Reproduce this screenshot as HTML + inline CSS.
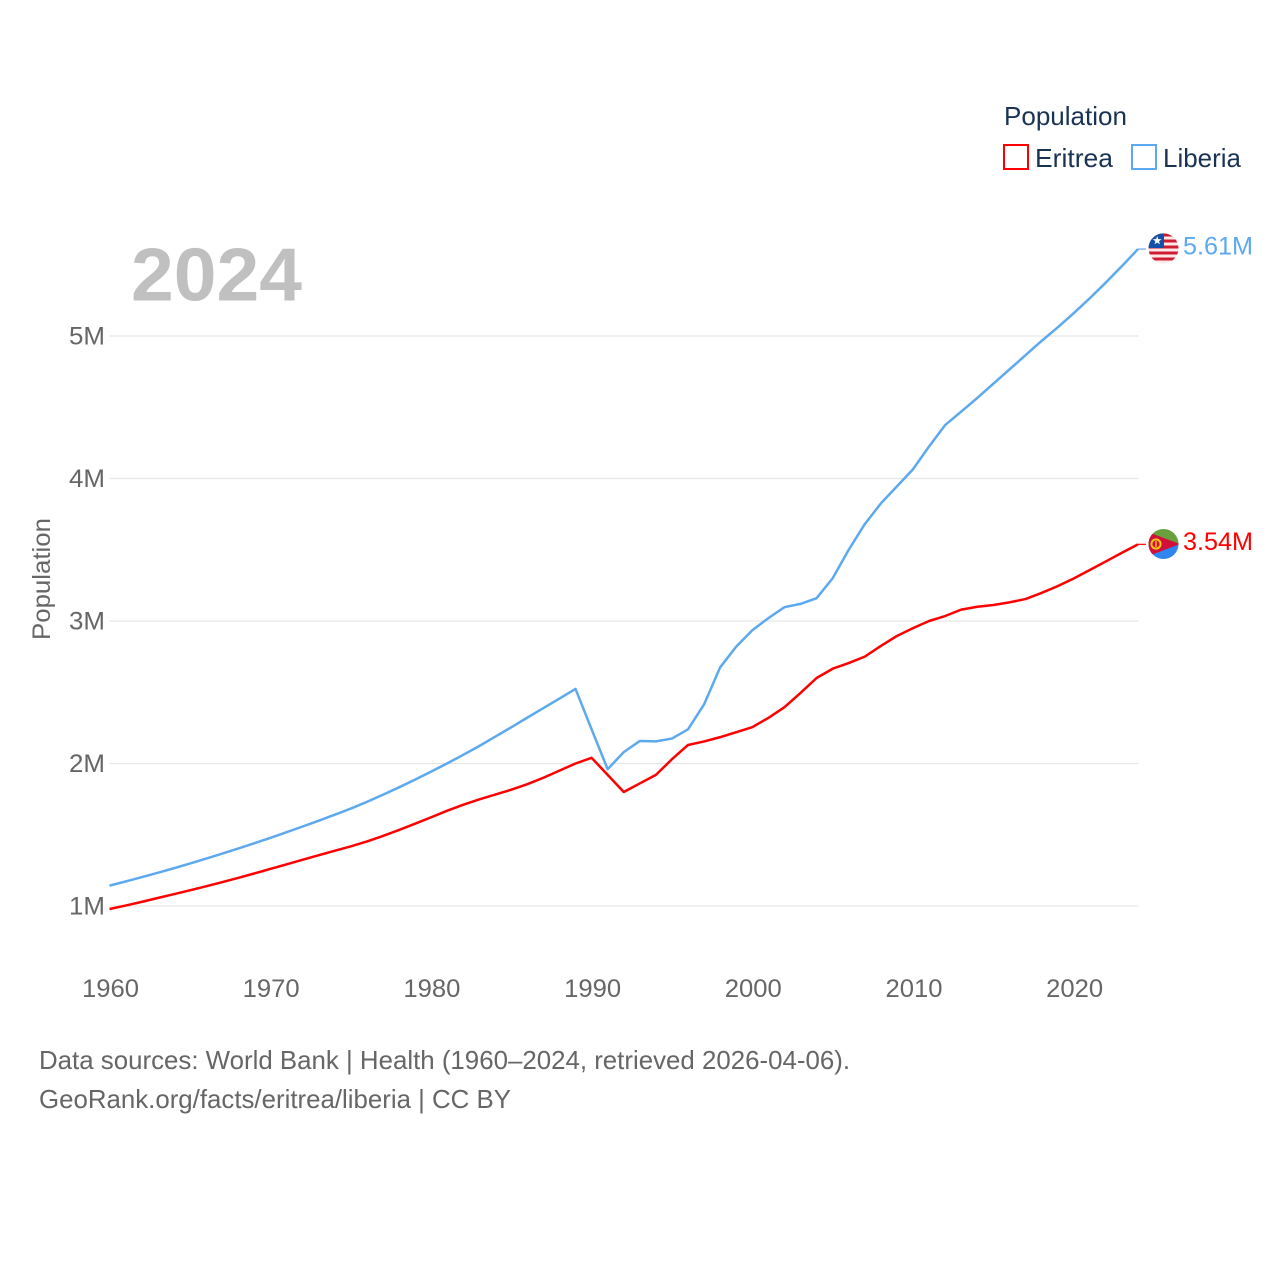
<!DOCTYPE html>
<html lang="en">
<head>
<meta charset="utf-8">
<title>Population: Eritrea and Liberia</title>
<style>
html,body{margin:0;padding:0;background:#fff;width:1280px;height:1280px;overflow:hidden}
svg{display:block;font-family:"Liberation Sans",sans-serif}
</style>
</head>
<body>
<svg id="chart" width="1280" height="1280" viewBox="0 0 1280 1280" xmlns="http://www.w3.org/2000/svg">
  <defs>
    <clipPath id="flag-clip-a"><circle cx="1163.5" cy="248.4" r="15"/></clipPath>
    <clipPath id="flag-clip-b"><circle cx="1163.5" cy="544" r="15"/></clipPath>
  </defs>
  <rect x="0" y="0" width="1280" height="1280" fill="#fff"/>
  <g id="grid"></g>
  <g id="y-ticks"></g>
  <g id="x-ticks"></g>
  <text x="131" y="300.5" font-size="75" font-weight="700" fill="#c0c0c0" textLength="171" lengthAdjust="spacingAndGlyphs">2024</text>
  <text transform="translate(50,640) rotate(-90)" font-size="25" fill="#666" textLength="122" lengthAdjust="spacingAndGlyphs">Population</text>
  <g id="series"></g>

  <g>
    <text x="1004" y="125" font-size="26" fill="#1a3353" textLength="123" lengthAdjust="spacingAndGlyphs">Population</text>
    <rect x="1004" y="145" width="24" height="24" fill="#fff" stroke="#ff0000" stroke-width="2"/>
    <text x="1035" y="167" font-size="26" fill="#1a3353" textLength="78" lengthAdjust="spacingAndGlyphs">Eritrea</text>
    <rect x="1132" y="145" width="24" height="24" fill="#fff" stroke="#5da9f0" stroke-width="2"/>
    <text x="1163" y="167" font-size="26" fill="#1a3353" textLength="78" lengthAdjust="spacingAndGlyphs">Liberia</text>
  </g>

  <g clip-path="url(#flag-clip-a)">
    <rect x="1148" y="233" width="31" height="31" fill="#fbe9e9"/>
    <rect x="1148" y="233.5" width="31" height="3" fill="#d01c30"/>
    <rect x="1148" y="239.5" width="31" height="3" fill="#d01c30"/>
    <rect x="1148" y="245.5" width="31" height="3" fill="#d01c30"/>
    <rect x="1148" y="251.5" width="31" height="3" fill="#d01c30"/>
    <rect x="1148" y="257.5" width="31" height="3" fill="#d01c30"/>
    <rect x="1148" y="233" width="16" height="15" fill="#1450a8"/>
    <polygon points="1157.2,236 1158.3,239.1 1161.6,239.2 1159,241.2 1159.9,244.4 1157.2,242.5 1154.5,244.4 1155.4,241.2 1152.8,239.2 1156.1,239.1" fill="#fff"/>
  </g>
  <g clip-path="url(#flag-clip-b)">
    <rect x="1148" y="528" width="31" height="16" fill="#6a9f3e"/>
    <rect x="1148" y="544" width="31" height="17" fill="#2f86ee"/>
    <polygon points="1148,532 1180,544 1148,556" fill="#d0103a"/>
    <circle cx="1156" cy="544" r="4.6" fill="none" stroke="#f5c518" stroke-width="2"/>
    <rect x="1155.3" y="541" width="1.4" height="6" fill="#f5c518"/>
  </g>

  <text x="39" y="1069" font-size="26" fill="#666" textLength="811" lengthAdjust="spacingAndGlyphs">Data sources: World Bank | Health (1960–2024, retrieved 2026-04-06).</text>
  <text x="39" y="1108" font-size="26" fill="#666" textLength="472" lengthAdjust="spacingAndGlyphs">GeoRank.org/facts/eritrea/liberia | CC BY</text>
</svg>
<script>
const years = [1960,1961,1962,1963,1964,1965,1966,1967,1968,1969,1970,1971,1972,1973,1974,1975,1976,1977,1978,1979,1980,1981,1982,1983,1984,1985,1986,1987,1988,1989,1990,1991,1992,1993,1994,1995,1996,1997,1998,1999,2000,2001,2002,2003,2004,2005,2006,2007,2008,2009,2010,2011,2012,2013,2014,2015,2016,2017,2018,2019,2020,2021,2022,2023,2024];
const liberiaValues = [1.143,1.172,1.202,1.233,1.265,1.298,1.332,1.367,1.403,1.440,1.478,1.517,1.557,1.598,1.640,1.683,1.730,1.780,1.832,1.886,1.942,2.000,2.060,2.122,2.188,2.254,2.322,2.389,2.456,2.523,2.240,1.960,2.080,2.158,2.155,2.175,2.240,2.415,2.675,2.820,2.935,3.020,3.097,3.120,3.160,3.300,3.500,3.680,3.825,3.945,4.065,4.225,4.375,4.470,4.565,4.665,4.765,4.865,4.965,5.060,5.160,5.265,5.375,5.490,5.610];
const eritreaValues = [0.979,1.003,1.029,1.056,1.083,1.110,1.138,1.167,1.197,1.228,1.260,1.292,1.324,1.356,1.387,1.418,1.452,1.491,1.533,1.577,1.622,1.668,1.710,1.748,1.782,1.816,1.855,1.900,1.950,2.000,2.040,1.920,1.800,1.860,1.920,2.030,2.130,2.155,2.185,2.220,2.255,2.320,2.395,2.495,2.600,2.665,2.705,2.750,2.825,2.895,2.950,3.000,3.035,3.080,3.100,3.112,3.131,3.154,3.197,3.245,3.298,3.358,3.418,3.479,3.538];
const yTickValues = [1,2,3,4,5];
const yTickLabels = ['1M','2M','3M','4M','5M'];
const xTickYears = [1960,1970,1980,1990,2000,2010,2020];
const endLabels = ['5.61M','3.54M'];

const NS = 'http://www.w3.org/2000/svg';
function xScale(year) { return 109.5 + (year - 1960) * 16.07; }
function yScale(value) { return 906 - (value - 1) * 142.5; }
function make(tag, attrs, parent) {
  const el = document.createElementNS(NS, tag);
  for (const k in attrs) el.setAttribute(k, attrs[k]);
  parent.appendChild(el);
  return el;
}

const grid = document.getElementById('grid');
const yTicks = document.getElementById('y-ticks');
const xTicks = document.getElementById('x-ticks');
const series = document.getElementById('series');

yTickValues.forEach(function (v, i) {
  const line = make('line', {x1: 109.5, x2: 1138.5, y1: yScale(v), y2: yScale(v), stroke: '#e6e6e6', 'stroke-width': 1.2}, grid);
  
  
  const label = make('text', {x: 69, y: yScale(v) + 8.5, 'font-size': 25, fill: '#666', textLength: 36, lengthAdjust: 'spacingAndGlyphs'}, yTicks);
  
  
  label.textContent = yTickLabels[i];
});

xTickYears.forEach(function (y) {
  const label = make('text', {x: xScale(y) - 27.5, y: 997, 'font-size': 25, fill: '#666', textLength: 57, lengthAdjust: 'spacingAndGlyphs'}, xTicks);
  
  
  label.textContent = y;
});

function linePath(values) {
  return values.map(function (v, i) {
    return (i ? 'L' : 'M') + xScale(years[i]).toFixed(2) + ' ' + yScale(v).toFixed(2);
  }).join(' ');
}

const liberiaLine = make('path', {d: linePath(liberiaValues), fill: 'none', stroke: '#5da9f0', 'stroke-width': 2.5, 'stroke-linejoin': 'round'}, series);



const eritreaLine = make('path', {d: linePath(eritreaValues), fill: 'none', stroke: '#ff0000', 'stroke-width': 2.5, 'stroke-linejoin': 'round'}, series);



const lastYear = years[years.length - 1];
const liberiaLast = liberiaValues[liberiaValues.length - 1];
const eritreaLast = eritreaValues[eritreaValues.length - 1];

const liberiaConnector = make('line', {x1: xScale(lastYear), x2: 1146, y1: yScale(liberiaLast), y2: yScale(liberiaLast), stroke: '#5da9f0', 'stroke-width': 1.2}, series);



const eritreaConnector = make('line', {x1: xScale(lastYear), x2: 1146, y1: yScale(eritreaLast), y2: yScale(eritreaLast), stroke: '#ff0000', 'stroke-width': 1.2}, series);



const liberiaLabel = make('text', {x: 1183, y: yScale(liberiaLast) + 5.5, 'font-size': 25, fill: '#5da9f0', textLength: 70, lengthAdjust: 'spacingAndGlyphs'}, series);


liberiaLabel.textContent = endLabels[0];

const eritreaLabel = make('text', {x: 1183, y: yScale(eritreaLast) + 5.5, 'font-size': 25, fill: '#ff0000', textLength: 70, lengthAdjust: 'spacingAndGlyphs'}, series);


eritreaLabel.textContent = endLabels[1];
</script>
</body>
</html>
